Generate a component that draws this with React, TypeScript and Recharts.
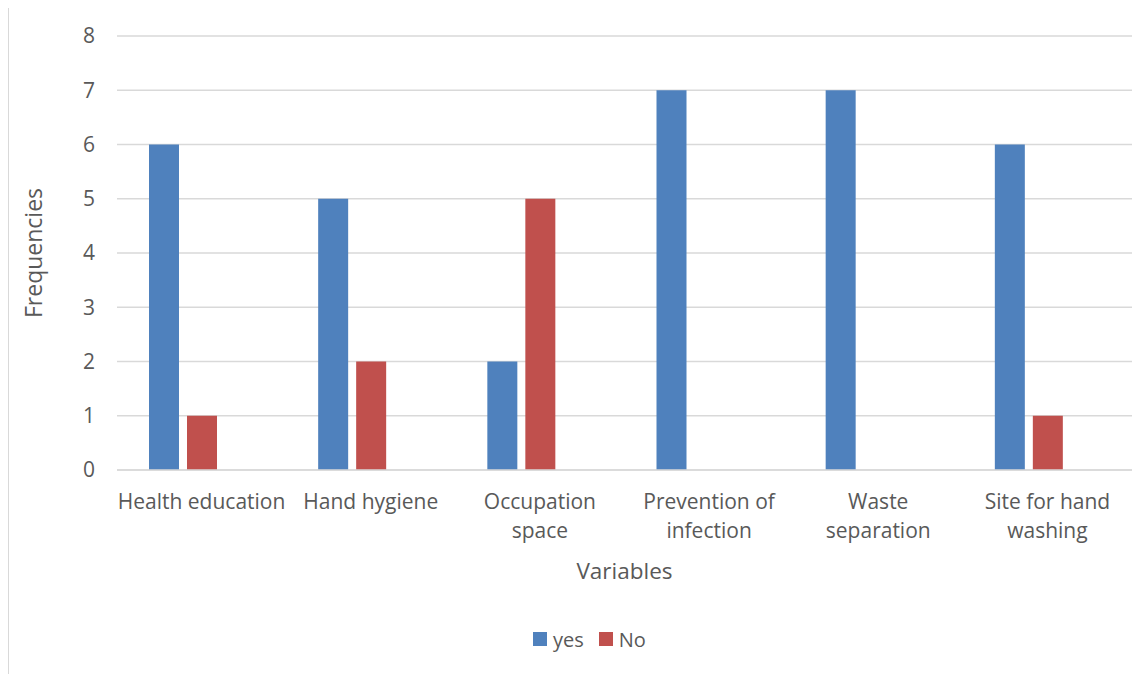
import React from 'react';
import {
  BarChart,
  Bar,
  XAxis,
  YAxis,
  CartesianGrid,
  Legend
} from 'recharts';

// category labels, "\n" marks where the tick text wraps
const categories = [
  'Health education',
  'Hand hygiene',
  'Occupation\nspace',
  'Prevention of\ninfection',
  'Waste\nseparation',
  'Site for hand\nwashing'
];
const yesValues = [6, 5, 2, 7, 7, 6];
const noValues = [1, 2, 5, 0, 0, 1];
// third (empty) series keeps the Excel-style slot next to each pair
const blankValues = [null, null, null, null, null, null];
const yTicks = [0, 1, 2, 3, 4, 5, 6, 7, 8];

const data = categories.map((name, i) => ({
  name,
  yes: yesValues[i],
  no: noValues[i],
  blank: blankValues[i]
}));

const FONT = '"Open Sans", "Liberation Sans", sans-serif';
const TEXT = '#595959';
const GRID = '#d9d9d9';
const BLUE = '#4F81BD';
const RED = '#C0504D';

const W = 1138;
const H = 666;

const CategoryTick = (props: any) => {
  const { x, y, payload } = props;
  const lines = String(payload.value).split('\n');
  return (
    <g>
      {lines.map((line, i) => (
        <text
          key={i}
          x={x}
          y={y + 31 + i * 29}
          textAnchor="middle"
          dominantBaseline="central"
          fill={TEXT}
          fontSize={21}
          fontFamily={FONT}
        >
          {line}
        </text>
      ))}
    </g>
  );
};

const LegendContent = () => (
  <div
    style={{
      display: 'flex',
      alignItems: 'center',
      height: 30,
      fontFamily: FONT,
      fontSize: 20,
      color: TEXT
    }}
  >
    <span style={{ width: 14, height: 14, background: BLUE, display: 'inline-block' }} />
    <span style={{ marginLeft: 6 }}>yes</span>
    <span style={{ width: 14, height: 14, background: RED, display: 'inline-block', marginLeft: 15 }} />
    <span style={{ marginLeft: 6 }}>No</span>
  </div>
);

export default function App() {
  return (
    <div
      style={{
        width: W,
        height: H,
        borderLeft: `1px solid ${GRID}`,
        borderTop: `1px solid ${GRID}`,
        marginTop: -1,
        background: '#fff'
      }}
    >
      <BarChart
        width={W}
        height={H}
        data={data}
        margin={{ top: 28, right: 15, left: 0, bottom: 20 }}
        barSize={30}
        barGap={8}
      >
        <CartesianGrid vertical={false} stroke={GRID} strokeWidth={1.3} />
        <XAxis
          dataKey="name"
          height={154}
          interval={0}
          tickLine={false}
          tickSize={0}
          tickMargin={0}
          axisLine={{ stroke: GRID, strokeWidth: 1.3 }}
          tick={<CategoryTick />}
          label={({ viewBox }: any) => (
            <text
              x={viewBox.x + viewBox.width / 2}
              y={562}
              textAnchor="middle"
              dominantBaseline="central"
              fill={TEXT}
              fontSize={22.5}
              fontFamily={FONT}
            >
              Variables
            </text>
          )}
        />
        <YAxis
          width={108}
          domain={[0, 8]}
          ticks={yTicks}
          interval={0}
          axisLine={false}
          tickLine={false}
          tickSize={0}
          tickMargin={22}
          tick={{ fill: TEXT, fontSize: 21, fontFamily: FONT }}
          label={({ viewBox }: any) => (
            <text
              x={24}
              y={viewBox.y + viewBox.height / 2}
              transform={`rotate(-90, 24, ${viewBox.y + viewBox.height / 2})`}
              textAnchor="middle"
              dominantBaseline="central"
              fill={TEXT}
              fontSize={23}
              fontFamily={FONT}
            >
              Frequencies
            </text>
          )}
        />
        <Legend
          verticalAlign="bottom"
          content={<LegendContent />}
          wrapperStyle={{ left: 524, width: 'auto', bottom: 20 }}
        />
        <Bar dataKey="yes" name="yes" fill={BLUE} isAnimationActive={false} />
        <Bar dataKey="no" name="No" fill={RED} isAnimationActive={false} />
        <Bar dataKey="blank" name="" fill="transparent" legendType="none" isAnimationActive={false} />
      </BarChart>
    </div>
  );
}
